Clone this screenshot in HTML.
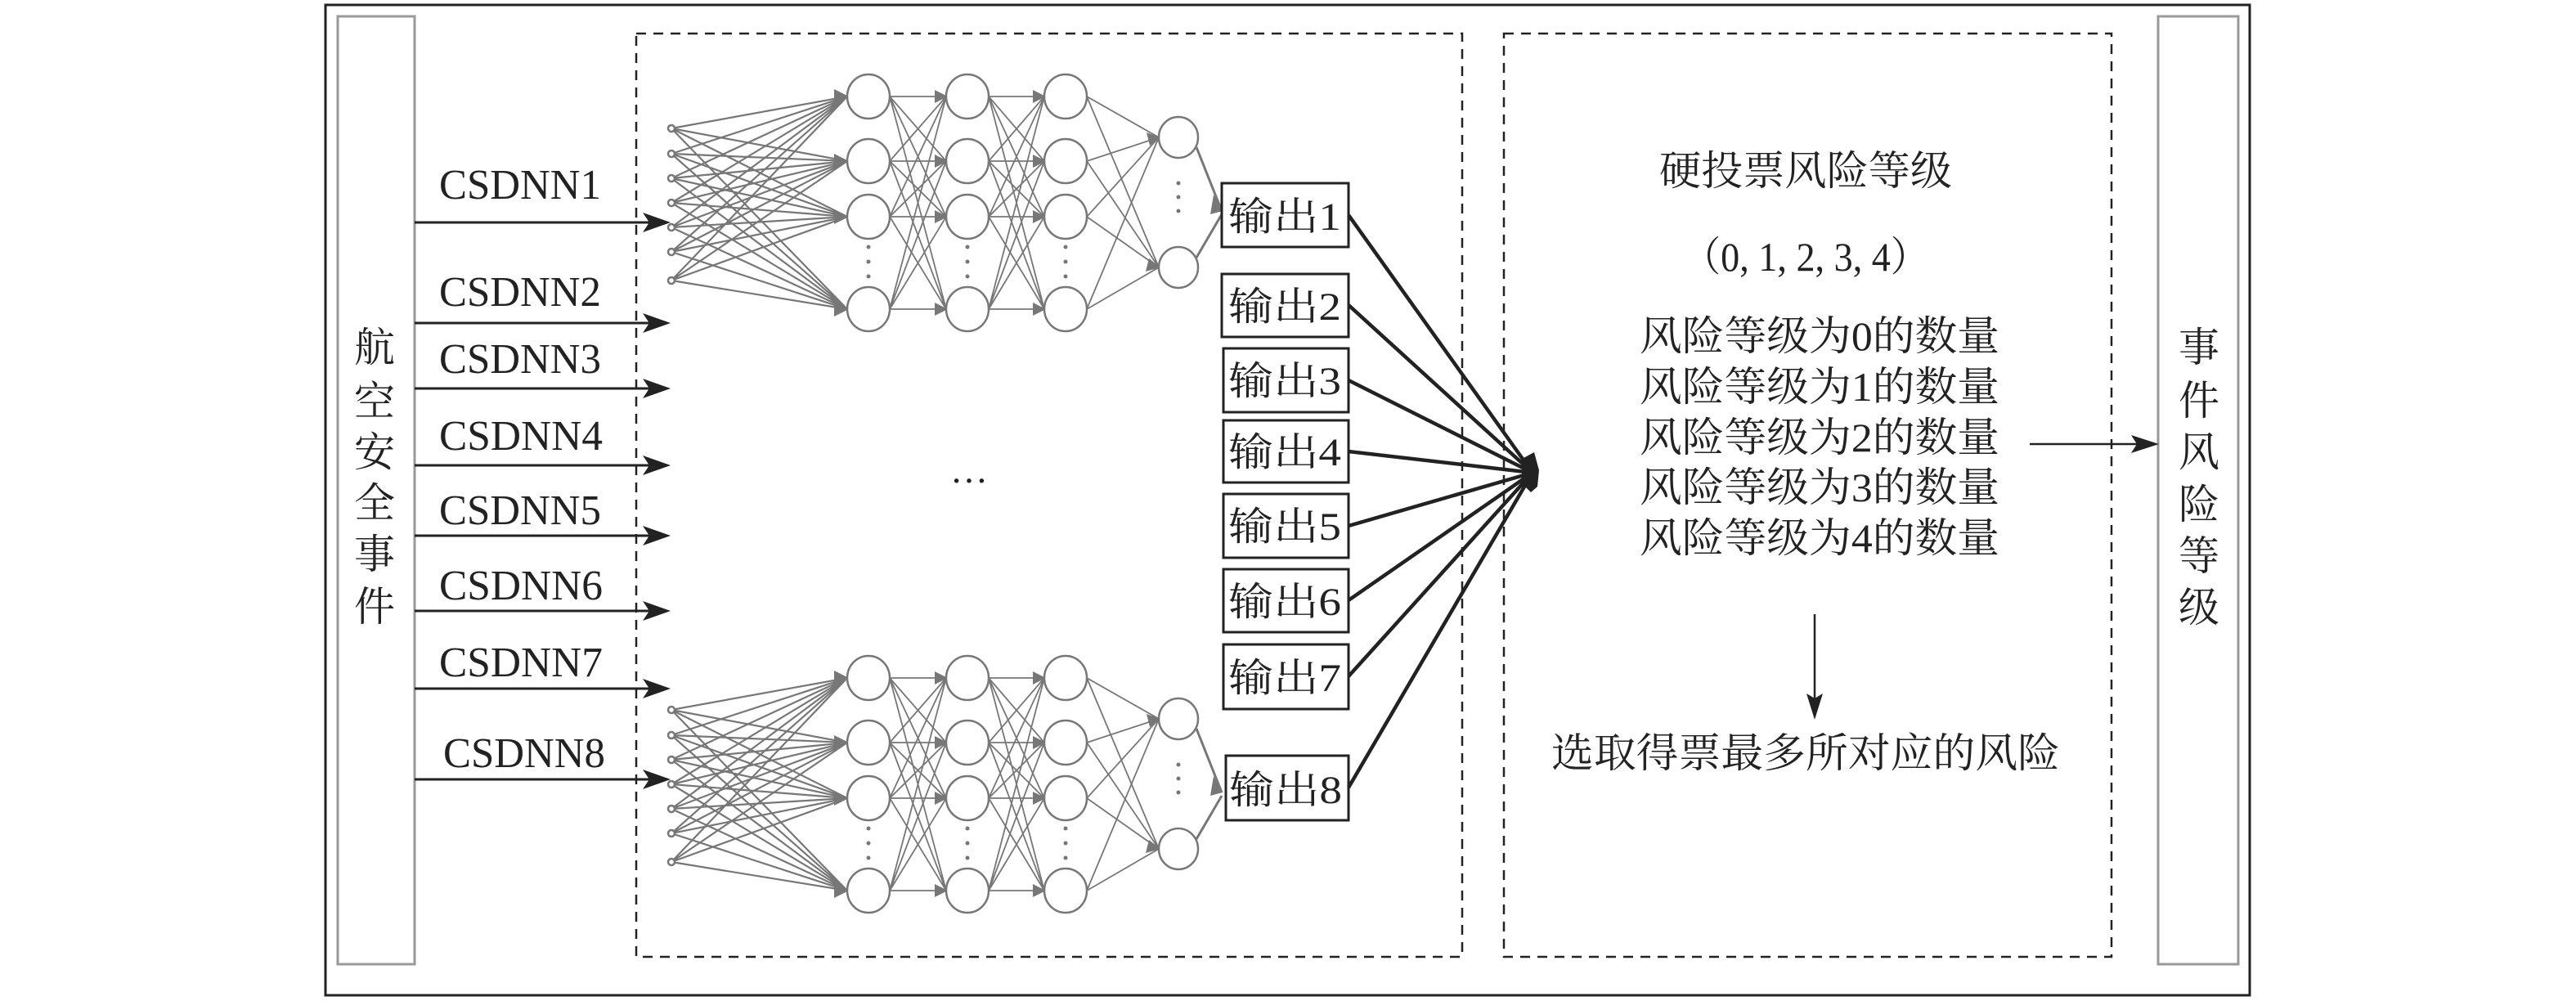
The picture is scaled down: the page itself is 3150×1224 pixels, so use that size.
<!DOCTYPE html>
<html><head><meta charset="utf-8">
<style>
html,body{margin:0;padding:0;background:#fff;}
svg{display:block;}
svg text{font-family:"Liberation Serif","Times New Roman","Noto Serif CJK SC","Noto Sans CJK SC",serif;fill:#222;}
</style></head>
<body>
<svg width="3150" height="1224" viewBox="0 0 3150 1224" xmlns="http://www.w3.org/2000/svg" font-family="'Liberation Serif', 'Noto Serif CJK SC', serif">
<defs>
<g id="net">
  <g stroke="#777" stroke-width="2.2" fill="none">
    <path d="M821 157L1036 118M821 157L1036 197M821 157L1036 265M821 157L1036 378
M821 188L1036 118M821 188L1036 197M821 188L1036 265M821 188L1036 378
M821 218L1036 118M821 218L1036 197M821 218L1036 265M821 218L1036 378
M821 248L1036 118M821 248L1036 197M821 248L1036 265M821 248L1036 378
M821 278L1036 118M821 278L1036 197M821 278L1036 265M821 278L1036 378
M821 308L1036 118M821 308L1036 197M821 308L1036 265M821 308L1036 378
M821 343L1036 118M821 343L1036 197M821 343L1036 265M821 343L1036 378"/>
    <path stroke-width="1.8" d="M1088 118L1157 118M1088 118L1157 197M1088 118L1157 265M1088 118L1157 378
M1088 197L1157 118M1088 197L1157 197M1088 197L1157 265M1088 197L1157 378
M1088 265L1157 118M1088 265L1157 197M1088 265L1157 265M1088 265L1157 378
M1088 378L1157 118M1088 378L1157 197M1088 378L1157 265M1088 378L1157 378"/>
    <path stroke-width="1.8" d="M1209 118L1277 118M1209 118L1277 197M1209 118L1277 265M1209 118L1277 378
M1209 197L1277 118M1209 197L1277 197M1209 197L1277 265M1209 197L1277 378
M1209 265L1277 118M1209 265L1277 197M1209 265L1277 265M1209 265L1277 378
M1209 378L1277 118M1209 378L1277 197M1209 378L1277 265M1209 378L1277 378"/>
    <path stroke-width="1.8" d="M1329 118L1417 168M1329 118L1417 327M1329 197L1417 168M1329 197L1417 327
M1329 265L1417 168M1329 265L1417 327M1329 378L1417 168M1329 378L1417 327"/>
    <path stroke-width="3" d="M1463 180L1494 258M1463 315L1494 262"/>
  </g>
  <g fill="#777">
    <polygon points="1038,118 1020,109 1020,127"/><polygon points="1038,197 1020,188 1020,206"/>
    <polygon points="1038,265 1020,256 1020,274"/><polygon points="1038,378 1020,369 1020,387"/>
    <polygon points="1159,118 1143,110 1143,126"/><polygon points="1159,197 1143,189 1143,205"/>
    <polygon points="1159,265 1143,257 1143,273"/><polygon points="1159,378 1143,370 1143,386"/>
    <polygon points="1279,118 1263,110 1263,126"/><polygon points="1279,197 1263,189 1263,205"/>
    <polygon points="1279,265 1263,257 1263,273"/><polygon points="1279,378 1263,370 1263,386"/>
    <polygon points="1419,168 1402,162 1406,178"/><polygon points="1419,327 1405,316 1401,332"/>
    <polygon points="1495,258 1484,238 1480,262"/>
    <circle cx="1062" cy="302" r="2.5"/><circle cx="1062" cy="320" r="2.5"/><circle cx="1062" cy="338" r="2.5"/>
    <circle cx="1183" cy="302" r="2.5"/><circle cx="1183" cy="320" r="2.5"/><circle cx="1183" cy="338" r="2.5"/>
    <circle cx="1303" cy="302" r="2.5"/><circle cx="1303" cy="320" r="2.5"/><circle cx="1303" cy="338" r="2.5"/>
    <circle cx="1441" cy="224" r="2.5"/><circle cx="1441" cy="241" r="2.5"/><circle cx="1441" cy="258" r="2.5"/>
  </g>
  <g fill="#fff" stroke="#777" stroke-width="2.5">
    <circle cx="821" cy="157" r="4"/><circle cx="821" cy="188" r="4"/><circle cx="821" cy="218" r="4"/>
    <circle cx="821" cy="248" r="4"/><circle cx="821" cy="278" r="4"/><circle cx="821" cy="308" r="4"/><circle cx="821" cy="343" r="4"/>
    <ellipse cx="1062" cy="118" rx="26" ry="27"/><ellipse cx="1062" cy="197" rx="26" ry="27"/><ellipse cx="1062" cy="265" rx="26" ry="27"/><ellipse cx="1062" cy="378" rx="26" ry="27"/>
    <ellipse cx="1183" cy="118" rx="26" ry="27"/><ellipse cx="1183" cy="197" rx="26" ry="27"/><ellipse cx="1183" cy="265" rx="26" ry="27"/><ellipse cx="1183" cy="378" rx="26" ry="27"/>
    <ellipse cx="1303" cy="118" rx="26" ry="27"/><ellipse cx="1303" cy="197" rx="26" ry="27"/><ellipse cx="1303" cy="265" rx="26" ry="27"/><ellipse cx="1303" cy="378" rx="26" ry="27"/>
    <ellipse cx="1441" cy="168" rx="24" ry="25"/><ellipse cx="1441" cy="327" rx="24" ry="25"/>
  </g>
</g>
</defs>

<rect x="398" y="6" width="2353" height="1211" fill="none" stroke="#222" stroke-width="3"/>
<rect x="413" y="20" width="94" height="1159" fill="none" stroke="#999" stroke-width="3"/>
<rect x="2639" y="20" width="98" height="1159" fill="none" stroke="#999" stroke-width="3"/>
<rect x="778" y="41" width="1010" height="1129" fill="none" stroke="#222" stroke-width="2.5" stroke-dasharray="12,9"/>
<rect x="1839" y="41" width="743" height="1129" fill="none" stroke="#222" stroke-width="2.5" stroke-dasharray="12,9"/>

<use href="#net"/>
<use href="#net" transform="translate(0,711)"/>

<g stroke="#222" stroke-width="3">
  <line x1="507" y1="272" x2="806" y2="272"/><line x1="507" y1="395" x2="806" y2="395"/>
  <line x1="507" y1="475" x2="806" y2="475"/><line x1="507" y1="569" x2="806" y2="569"/>
  <line x1="507" y1="655" x2="806" y2="655"/><line x1="507" y1="747" x2="806" y2="747"/>
  <line x1="507" y1="842" x2="806" y2="842"/><line x1="507" y1="953" x2="806" y2="953"/>
</g>
<g fill="#222">
  <polygon points="820,272 786,260 794,272 786,284"/><polygon points="820,395 786,383 794,395 786,407"/>
  <polygon points="820,475 786,463 794,475 786,487"/><polygon points="820,569 786,557 794,569 786,581"/>
  <polygon points="820,655 786,643 794,655 786,667"/><polygon points="820,747 786,735 794,747 786,759"/>
  <polygon points="820,842 786,830 794,842 786,854"/><polygon points="820,953 786,941 794,953 786,965"/>
</g>
<g font-size="52" font-family="'Liberation Serif', serif">
  <text x="537" y="243" textLength="198" lengthAdjust="spacingAndGlyphs">CSDNN1</text>
  <text x="537" y="374" textLength="198" lengthAdjust="spacingAndGlyphs">CSDNN2</text>
  <text x="537" y="456" textLength="198" lengthAdjust="spacingAndGlyphs">CSDNN3</text>
  <text x="537" y="550" textLength="200" lengthAdjust="spacingAndGlyphs">CSDNN4</text>
  <text x="537" y="641" textLength="198" lengthAdjust="spacingAndGlyphs">CSDNN5</text>
  <text x="537" y="733" textLength="200" lengthAdjust="spacingAndGlyphs">CSDNN6</text>
  <text x="537" y="827" textLength="200" lengthAdjust="spacingAndGlyphs">CSDNN7</text>
  <text x="542" y="938" textLength="198" lengthAdjust="spacingAndGlyphs">CSDNN8</text>
</g>

<g font-size="50" text-anchor="middle">
  <text x="458" y="442">航</text><text x="458" y="508">空</text><text x="458" y="570">安</text>
  <text x="458" y="632">全</text><text x="458" y="695">事</text><text x="458" y="759">件</text>
</g>

<text x="1185" y="590" font-size="46" text-anchor="middle">…</text>

<g fill="#fff" stroke="#222" stroke-width="3">
  <rect x="1494" y="224" width="155" height="78"/>
  <rect x="1494" y="335" width="155" height="77"/>
  <rect x="1496" y="426" width="153" height="78"/>
  <rect x="1496" y="514" width="153" height="76"/>
  <rect x="1496" y="604" width="153" height="78"/>
  <rect x="1496" y="696" width="153" height="77"/>
  <rect x="1496" y="788" width="153" height="79"/>
  <rect x="1499" y="924" width="150" height="79"/>
</g>
<g font-size="48">
  <text x="1502" y="281" textLength="138" lengthAdjust="spacingAndGlyphs">输出1</text>
  <text x="1502" y="391" textLength="138" lengthAdjust="spacingAndGlyphs">输出2</text>
  <text x="1502" y="482" textLength="138" lengthAdjust="spacingAndGlyphs">输出3</text>
  <text x="1502" y="569" textLength="138" lengthAdjust="spacingAndGlyphs">输出4</text>
  <text x="1502" y="660" textLength="138" lengthAdjust="spacingAndGlyphs">输出5</text>
  <text x="1502" y="752" textLength="138" lengthAdjust="spacingAndGlyphs">输出6</text>
  <text x="1502" y="845" textLength="138" lengthAdjust="spacingAndGlyphs">输出7</text>
  <text x="1503" y="982" textLength="138" lengthAdjust="spacingAndGlyphs">输出8</text>
</g>

<g stroke="#222" stroke-width="4.5">
  <line x1="1649" y1="263" x2="1874" y2="578"/><line x1="1649" y1="373" x2="1874" y2="578"/>
  <line x1="1649" y1="465" x2="1874" y2="578"/><line x1="1649" y1="552" x2="1874" y2="578"/>
  <line x1="1649" y1="643" x2="1874" y2="578"/><line x1="1649" y1="734" x2="1874" y2="578"/>
  <line x1="1649" y1="827" x2="1874" y2="578"/><line x1="1649" y1="963" x2="1874" y2="578"/>
</g>
<path d="M1863 560 L1876 553 L1882 575 L1880 595 L1872 602 L1860 590 Z" fill="#222"/>

<g font-size="50" text-anchor="middle">
  <text x="2208" y="226" textLength="358" lengthAdjust="spacingAndGlyphs">硬投票风险等级</text>
  <text x="2208" y="331" textLength="300" lengthAdjust="spacingAndGlyphs">（0, 1, 2, 3, 4）</text>
  <text x="2225" y="428" textLength="440" lengthAdjust="spacingAndGlyphs">风险等级为0的数量</text>
  <text x="2225" y="490" textLength="440" lengthAdjust="spacingAndGlyphs">风险等级为1的数量</text>
  <text x="2225" y="552" textLength="440" lengthAdjust="spacingAndGlyphs">风险等级为2的数量</text>
  <text x="2225" y="613" textLength="440" lengthAdjust="spacingAndGlyphs">风险等级为3的数量</text>
  <text x="2225" y="675" textLength="440" lengthAdjust="spacingAndGlyphs">风险等级为4的数量</text>
  <text x="2208" y="938" textLength="622" lengthAdjust="spacingAndGlyphs">选取得票最多所对应的风险</text>
</g>
<line x1="2482" y1="543" x2="2615" y2="543" stroke="#222" stroke-width="2.5"/>
<polygon points="2640,543 2606,532 2613,543 2606,554" fill="#222"/>
<line x1="2219" y1="751" x2="2219" y2="860" stroke="#222" stroke-width="2.5"/>
<polygon points="2219,880 2209,848 2219,854 2229,848" fill="#222"/>

<g font-size="50" text-anchor="middle">
  <text x="2689" y="442">事</text><text x="2689" y="507">件</text><text x="2689" y="570">风</text>
  <text x="2689" y="634">险</text><text x="2689" y="697">等</text><text x="2689" y="760">级</text>
</g>
</svg>
</body></html>
